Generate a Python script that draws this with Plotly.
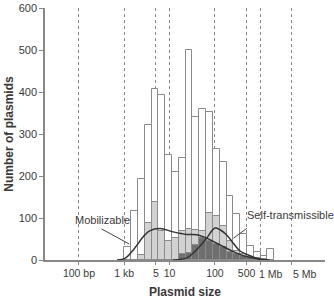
import numpy as np
import plotly.graph_objects as go

# bin edges (kb)
bin_edges_kb = [1, 1.41, 2, 2.83, 4, 5.66, 8, 11.3, 16, 22.6, 32, 45.3, 64, 90.5,
                128, 181, 256, 362, 512, 724, 1024, 1448, 2048]
all_counts = [30, 117, 193, 321, 406, 392, 250, 209, 243, 500, 340, 360, 352, 264,
              233, 153, 110, 62, 34, 18, 10, 26]
mob_counts = [0, 0, 13, 87, 137, 70, 45, 52, 70, 74, 72, 68, 113, 105,
              80, 45, 22, 15, 8, 4, 2, 0]
self_counts = [0, 0, 0, 0, 0, 0, 0, 0, 14, 16, 36, 52, 45, 38,
               30, 20, 14, 10, 6, 4, 2, 0]

# fitted curves (kb, count)
mob_curve_x = [0.69, 1.04, 1.58, 2.6, 3.7, 6.2, 12, 24, 40, 66, 130, 255, 500, 980, 1600]
mob_curve_y = [0, 4, 24, 55, 70, 75, 67, 61, 60, 52, 36, 20, 8, 2, 0]
self_curve_x = [12, 24, 33, 46, 66, 100, 130, 180, 255, 355, 600, 980, 1600]
self_curve_y = [0, 5, 16, 32, 52, 76, 72, 60, 40, 22, 10, 2, 0]

tick_kb = [0.1, 1, 5, 10, 100, 500, 1000, 5000]
tick_text = ["100 bp", "1 kb", "5", "10", "100", "500", "1 Mb", "5 Mb"]

le = np.log10(bin_edges_kb)
centers = (le[:-1] + le[1:]) / 2
widths = np.diff(le)

font = "Liberation Sans, Arial, sans-serif"
txtc = "#3a3a3a"
edge = "#8a8a8a"
tfs = 10.5

fig = go.Figure()
for vals, fill in [(all_counts, "white"), (mob_counts, "#d2d2d2"), (self_counts, "#6f6f6f")]:
    fig.add_trace(go.Bar(x=centers, y=vals, width=widths, marker=dict(color=fill, line=dict(color=edge, width=1)),
                         showlegend=False, hoverinfo="skip"))
for cx, cy in [(mob_curve_x, mob_curve_y), (self_curve_x, self_curve_y)]:
    fig.add_trace(go.Scatter(x=np.log10(cx), y=cy, mode="lines", line=dict(color="#333333", width=1.5, shape="spline"),
                             showlegend=False, hoverinfo="skip"))

fig.add_annotation(x=0.11, y=38, ax=-0.536, ay=76, xref="x", yref="y", axref="x", ayref="y",
                   text="", showarrow=True, arrowhead=0, arrowwidth=1, arrowcolor="#444")
fig.add_annotation(x=-0.49, y=95, xref="x", yref="y", text="Mobilizable", showarrow=False,
                   font=dict(size=11, color=txtc, family=font))
fig.add_annotation(x=2.41, y=52, ax=2.74, ay=78, xref="x", yref="y", axref="x", ayref="y",
                   text="", showarrow=True, arrowhead=0, arrowwidth=1, arrowcolor="#444")
fig.add_annotation(x=3.66, y=107, xref="x", yref="y", text="Self-transmissible", showarrow=False,
                   font=dict(size=11, color=txtc, family=font))

# tick labels: "1 Mb" and "5 Mb" sit just right of their lines, as in the source
nudged = {"1 Mb": ("left", -3), "5 Mb": ("left", -1)}
shown_text = [t if t not in nudged else "" for t in tick_text]
for kb, t in zip(tick_kb, tick_text):
    if t in nudged:
        anchor, shift = nudged[t]
        fig.add_annotation(x=np.log10(kb), y=0, xref="x", yref="paper", yanchor="top", xanchor=anchor,
                           yshift=-6, xshift=shift, text=t, showarrow=False,
                           font=dict(size=tfs, color=txtc, family=font))

fig.update_layout(
    width=334, height=299, margin=dict(l=45, r=9, t=8, b=39, autoexpand=False),
    paper_bgcolor="white", plot_bgcolor="white", barmode="overlay", bargap=0,
    font=dict(family=font, size=11, color=txtc),
)
fig.update_xaxes(range=[-1.75, 4.43], tickvals=np.log10(tick_kb), ticktext=shown_text, tickangle=0,
                 showgrid=True, gridcolor="#888", griddash="dot", gridwidth=1,
                 showline=True, linecolor="#888", linewidth=1.5, zeroline=False,
                 ticks="outside", ticklen=3, tickcolor="#888", automargin=False,
                 tickfont=dict(size=tfs, color=txtc),
                 title=dict(text="<b>Plasmid size</b>", font=dict(size=12, color=txtc), standoff=14))
fig.update_yaxes(range=[0, 600], tickvals=[0, 100, 200, 300, 400, 500, 600],
                 showgrid=False, showline=True, linecolor="#888", linewidth=1.5, zeroline=False,
                 ticks="outside", ticklen=4, tickcolor="#888", automargin=False,
                 tickfont=dict(size=11, color=txtc),
                 title=dict(text="<b>Number of plasmids</b>", font=dict(size=12, color=txtc), standoff=2))

fig.write_html("out.html")
